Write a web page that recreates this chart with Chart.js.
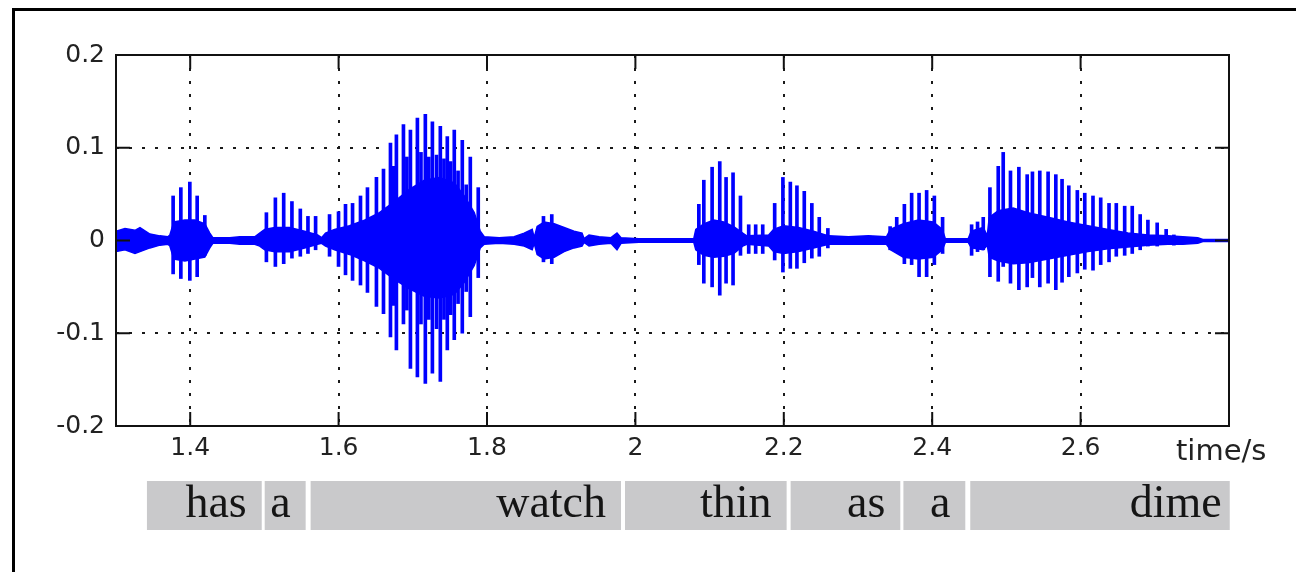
<!DOCTYPE html>
<html>
<head>
<meta charset="utf-8">
<script src="https://cdn.jsdelivr.net/npm/chart.js@4.4.1/dist/chart.umd.min.js"></script>
<style>
  html, body { margin: 0; padding: 0; background: #fff; }
  canvas { display: block; }
</style>
</head>
<body>
<canvas id="mycanvas" width="1296" height="572"></canvas>
<script>
var xTicks = [1.4, 1.6, 1.8, 2, 2.2, 2.4, 2.6];
var yTicks = [-0.2, -0.1, 0, 0.1, 0.2];

// dense part of the waveform (upper / lower envelope)
var envTime = [
	1.3000, 1.3121, 1.3256, 1.3323, 1.3457, 1.3592, 1.3699, 1.3726, 1.3780, 1.3928,
	1.4063, 1.4197, 1.4264, 1.4305, 1.4533, 1.4668, 1.4870, 1.4937, 1.5004, 1.5139,
	1.5340, 1.5542, 1.5717, 1.5771, 1.5824, 1.5946, 1.6147, 1.6349, 1.6551, 1.6752,
	1.6954, 1.7156, 1.7358, 1.7559, 1.7694, 1.7828, 1.7909, 1.7963, 1.8165, 1.8366,
	1.8501, 1.8609, 1.8636, 1.8676, 1.8770, 1.8905, 1.9039, 1.9173, 1.9281, 1.9308,
	1.9375, 1.9510, 1.9671, 1.9752, 1.9806, 2.0048, 2.0317, 2.0787, 2.0814, 2.0922,
	2.1056, 2.1191, 2.1325, 2.1446, 2.1500, 2.1796, 2.1863, 2.1997, 2.2199, 2.2401,
	2.2603, 2.2872, 2.3141, 2.3383, 2.3437, 2.3612, 2.3814, 2.4015, 2.4136, 2.4177,
	2.4486, 2.4527, 2.4688, 2.4742, 2.4769, 2.4890, 2.5091, 2.5293, 2.5562, 2.5831,
	2.6100, 2.6369, 2.6638, 2.6907, 2.7176, 2.7377, 2.7579, 2.7647, 2.8000
];
var envHigh = [
	0.010, 0.013, 0.011, 0.014, 0.007, 0.005, 0.004, 0.006, 0.020, 0.022,
	0.022, 0.018, 0.008, 0.003, 0.003, 0.004, 0.004, 0.008, 0.012, 0.014,
	0.014, 0.010, 0.006, 0.003, 0.008, 0.012, 0.016, 0.022, 0.030, 0.042,
	0.055, 0.065, 0.068, 0.062, 0.048, 0.030, 0.010, 0.004, 0.003, 0.004,
	0.008, 0.012, 0.003, 0.015, 0.020, 0.018, 0.014, 0.010, 0.008, 0.002,
	0.006, 0.004, 0.003, 0.008, 0.003, 0.002, 0.002, 0.002, 0.012, 0.018,
	0.022, 0.020, 0.015, 0.008, 0.005, 0.006, 0.012, 0.016, 0.014, 0.010,
	0.005, 0.004, 0.005, 0.004, 0.012, 0.018, 0.022, 0.020, 0.012, 0.002,
	0.002, 0.010, 0.014, 0.005, 0.025, 0.032, 0.035, 0.030, 0.025, 0.020,
	0.016, 0.012, 0.008, 0.006, 0.005, 0.004, 0.003, 0.001, 0.001
];
var envLow = [
	-0.012, -0.010, -0.014, -0.012, -0.008, -0.005, -0.004, -0.006, -0.020, -0.022,
	-0.020, -0.018, -0.008, -0.003, -0.003, -0.004, -0.004, -0.006, -0.010, -0.012,
	-0.012, -0.008, -0.004, -0.003, -0.006, -0.010, -0.015, -0.022, -0.030, -0.042,
	-0.052, -0.060, -0.062, -0.058, -0.045, -0.027, -0.008, -0.004, -0.003, -0.004,
	-0.006, -0.010, -0.003, -0.015, -0.020, -0.018, -0.012, -0.008, -0.006, -0.002,
	-0.006, -0.004, -0.003, -0.010, -0.003, -0.002, -0.002, -0.002, -0.010, -0.016,
	-0.018, -0.017, -0.014, -0.006, -0.004, -0.006, -0.012, -0.014, -0.012, -0.008,
	-0.004, -0.004, -0.004, -0.004, -0.010, -0.018, -0.020, -0.018, -0.010, -0.002,
	-0.002, -0.008, -0.010, -0.005, -0.018, -0.022, -0.025, -0.024, -0.020, -0.016,
	-0.012, -0.009, -0.007, -0.005, -0.004, -0.004, -0.003, -0.001, -0.001
];

// glottal pulses (spikes)
var pulseTime = [
	1.3770, 1.3874, 1.3995, 1.4094, 1.4197, 1.5027, 1.5148, 1.5260, 1.5371, 1.5484,
	1.5587, 1.5690, 1.5878, 1.5999, 1.6093, 1.6188, 1.6295, 1.6389, 1.6510, 1.6605,
	1.6699, 1.6779, 1.6874, 1.6968, 1.7062, 1.7169, 1.7264, 1.7371, 1.7465, 1.7559,
	1.7667, 1.7775, 1.7882, 1.8761, 1.8873, 2.0855, 2.0922, 2.1034, 2.1137, 2.1222,
	2.1316, 2.1416, 2.1527, 2.1621, 2.1716, 2.1877, 2.1988, 2.2088, 2.2177, 2.2276,
	2.2378, 2.2478, 2.2594, 2.3433, 2.3522, 2.3625, 2.3723, 2.3823, 2.3925, 2.4029,
	2.4140, 2.4531, 2.4611, 2.4688, 2.4778, 2.4890, 2.4957, 2.5055, 2.5168, 2.5280,
	2.5351, 2.5450, 2.5562, 2.5666, 2.5750, 2.5841, 2.5956, 2.6056, 2.6167, 2.6271,
	2.6383, 2.6481, 2.6594, 2.6696, 2.6803, 2.6907, 2.7032, 2.7153, 2.7257,
	// secondary pulses inside "watch"
	1.6740, 1.6920, 1.7110, 1.7215, 1.7320, 1.7420, 1.7510, 1.7610, 1.7720
];
var pulseHigh = [
	0.048, 0.057, 0.063, 0.048, 0.027, 0.030, 0.046, 0.051, 0.042, 0.034,
	0.026, 0.026, 0.028, 0.031, 0.039, 0.040, 0.048, 0.057, 0.068, 0.077,
	0.105, 0.114, 0.125, 0.119, 0.132, 0.136, 0.128, 0.123, 0.112, 0.119,
	0.108, 0.090, 0.057, 0.026, 0.028, 0.039, 0.065, 0.079, 0.085, 0.068,
	0.073, 0.048, 0.017, 0.017, 0.017, 0.040, 0.068, 0.063, 0.059, 0.053,
	0.040, 0.025, 0.013, 0.015, 0.025, 0.039, 0.051, 0.051, 0.054, 0.048,
	0.025, 0.017, 0.020, 0.025, 0.057, 0.080, 0.095, 0.075, 0.079, 0.071,
	0.074, 0.075, 0.074, 0.071, 0.066, 0.059, 0.054, 0.051, 0.048, 0.046,
	0.040, 0.040, 0.037, 0.037, 0.028, 0.022, 0.019, 0.012, 0.006,
	0.080, 0.090, 0.095, 0.090, 0.092, 0.088, 0.085, 0.075, 0.060
];
var pulseLow = [
	-0.036, -0.041, -0.043, -0.039, -0.016, -0.023, -0.028, -0.025, -0.019, -0.017,
	-0.014, -0.010, -0.017, -0.028, -0.037, -0.043, -0.048, -0.056, -0.071, -0.079,
	-0.104, -0.118, -0.090, -0.138, -0.147, -0.154, -0.143, -0.152, -0.118, -0.107,
	-0.100, -0.082, -0.040, -0.023, -0.025, -0.026, -0.046, -0.050, -0.059, -0.046,
	-0.048, -0.016, -0.014, -0.014, -0.014, -0.021, -0.034, -0.030, -0.030, -0.024,
	-0.019, -0.017, -0.008, -0.010, -0.012, -0.025, -0.026, -0.039, -0.039, -0.026,
	-0.014, -0.016, -0.012, -0.010, -0.039, -0.044, -0.028, -0.046, -0.053, -0.050,
	-0.040, -0.050, -0.046, -0.053, -0.045, -0.039, -0.035, -0.031, -0.032, -0.026,
	-0.023, -0.017, -0.016, -0.014, -0.010, -0.006, -0.006, -0.004, -0.005,
	-0.070, -0.075, -0.090, -0.085, -0.095, -0.085, -0.080, -0.068, -0.055
];

// word segmentation
var words = ["has", "a", "watch", "thin", "as", "a", "dime"];
var wordStart = [1.3417, 1.5004, 1.5623, 1.9860, 2.2092, 2.3612, 2.4513];
var wordEnd = [1.4964, 1.5556, 1.9806, 2.2038, 2.3570, 2.4446, 2.8010];

var BLUE = "#0000ff";

var hiPts = [], loPts = [], pulsePts = [];
for (var i in envTime) {
	hiPts.push({x: envTime[i], y: envHigh[i]});
	loPts.push({x: envTime[i], y: envLow[i]});
}
for (var j in pulseTime) {
	pulsePts.push({x: pulseTime[j], y: [pulseLow[j], pulseHigh[j]]});
}

var decor = {
	id: "decor",
	beforeDraw: function(chart) {
		var ctx = chart.ctx;
		ctx.save();
		ctx.fillStyle = "#fff";
		ctx.fillRect(0, 0, chart.width, chart.height);
		// outer frame (left and top edges)
		ctx.strokeStyle = "#000";
		ctx.lineWidth = 3;
		ctx.beginPath();
		ctx.moveTo(13.5, chart.height + 5);
		ctx.lineTo(13.5, 9.5);
		ctx.lineTo(chart.width + 5, 9.5);
		ctx.stroke();
		ctx.restore();
	},
	afterDatasetsDraw: function(chart) {
		var a = chart.chartArea, ctx = chart.ctx;
		var xs = chart.scales.x, ys = chart.scales.y;
		var tl = 14;
		ctx.save();
		ctx.strokeStyle = "#111";
		ctx.lineWidth = 2;
		ctx.strokeRect(a.left, a.top, a.right - a.left, a.bottom - a.top);
		ctx.beginPath();
		xTicks.forEach(function(v) {
			var px = xs.getPixelForValue(v);
			ctx.moveTo(px, a.top); ctx.lineTo(px, a.top + tl);
			ctx.moveTo(px, a.bottom); ctx.lineTo(px, a.bottom - tl);
		});
		yTicks.forEach(function(v) {
			var py = ys.getPixelForValue(v);
			ctx.moveTo(a.left, py); ctx.lineTo(a.left + tl, py);
			ctx.moveTo(a.right, py); ctx.lineTo(a.right - tl, py);
		});
		ctx.stroke();
		ctx.restore();
	},
	afterDraw: function(chart) {
		var ctx = chart.ctx, xs = chart.scales.x;
		ctx.save();
		// axis unit
		ctx.fillStyle = "#222";
		ctx.font = "29px 'DejaVu Sans'";
		ctx.textAlign = "left";
		ctx.textBaseline = "alphabetic";
		ctx.fillText("time/s", 1176, 460);
		// word boxes
		var top = 481, bottom = 530;
		for (var k in words) {
			var x1 = xs.getPixelForValue(wordStart[k]);
			var x2 = xs.getPixelForValue(wordEnd[k]);
			ctx.fillStyle = "#c9c9cb";
			ctx.fillRect(x1, top, x2 - x1, bottom - top);
			ctx.fillStyle = "#151515";
			ctx.font = "46px 'Liberation Serif'";
			ctx.textAlign = "right";
			ctx.fillText(words[k], x2 - (k == 6 ? 8 : 15), 517);
		}
		ctx.restore();
	}
};

var tickFont = {family: "'DejaVu Sans'", size: 25};

var ctx = document.getElementById("mycanvas");

var WaveGraph = new Chart(ctx, {
	type: "bar",
	data: {
		datasets: [
			{
				type: "bar",
				label: "pulses",
				data: pulsePts,
				backgroundColor: BLUE,
				borderWidth: 0,
				barThickness: 3
			},
			{
				type: "line",
				label: "upper",
				data: hiPts,
				borderColor: BLUE,
				backgroundColor: BLUE,
				borderWidth: 1.5,
				pointRadius: 0,
				tension: 0,
				fill: "+1"
			},
			{
				type: "line",
				label: "lower",
				data: loPts,
				borderColor: BLUE,
				borderWidth: 1.5,
				pointRadius: 0,
				tension: 0,
				fill: false
			}
		]
	},
	options: {
		responsive: false,
		animation: false,
		devicePixelRatio: 1,
		layout: {padding: {top: 55, right: 67, left: 0, bottom: 0}},
		plugins: {legend: {display: false}, tooltip: {enabled: false}},
		scales: {
			x: {
				type: "linear",
				min: 1.3,
				max: 2.8,
				offset: false,
				afterBuildTicks: function(s) { s.ticks = xTicks.map(function(v) { return {value: v}; }); },
				afterFit: function(s) { s.height = 146; },
				grid: {color: "#1a1a1a", lineWidth: 2, drawTicks: false, offset: false},
				border: {display: false, dash: [3, 10]},
				ticks: {
					padding: 7, maxRotation: 0, autoSkip: false, color: "#222", font: tickFont,
					callback: function(v) { return String(v); }
				}
			},
			y: {
				min: -0.2,
				max: 0.2,
				afterBuildTicks: function(s) { s.ticks = yTicks.map(function(v) { return {value: v}; }); },
				afterFit: function(s) { s.width = 116; },
				grid: {color: "#1a1a1a", lineWidth: 2, drawTicks: false},
				border: {display: false, dash: [3, 10]},
				ticks: {
					padding: 11, color: "#222", font: tickFont,
					callback: function(v) { return String(v); }
				}
			}
		}
	},
	plugins: [decor]
});
</script>
</body>
</html>
